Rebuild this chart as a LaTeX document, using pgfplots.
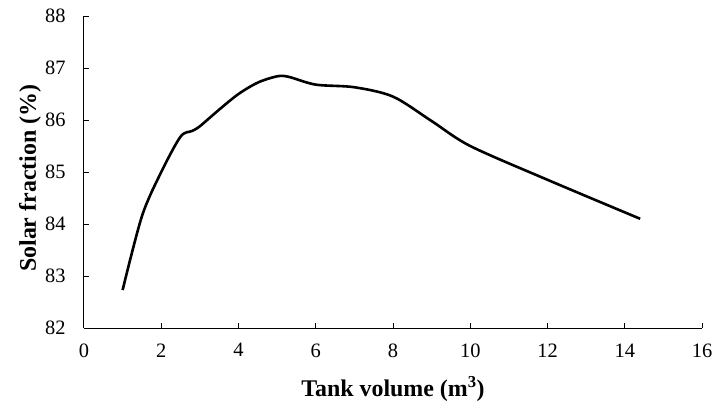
\documentclass[border=0pt]{standalone}
\usepackage{fontspec}
\setmainfont{Liberation Serif}
\usepackage{pgfplots}
\pgfplotsset{compat=1.18}

\begin{document}
\begin{tikzpicture}
\begin{axis}[
  scale only axis,
  width=618bp, height=312bp,
  xmin=0, xmax=16, ymin=82, ymax=88,
  xtick={0,2,...,16}, ytick={82,83,...,88},
  axis x line*=bottom, axis y line*=left,
  axis line style={line width=1bp, -},
  tick style={line width=1bp, black},
  tick align=inside, major tick length=5bp,
  tick label style={font=\fontsize{20.5}{24}\selectfont},
  xticklabel shift=12bp,
  yticklabel shift=15bp,
  /pgf/number format/assume math mode=true,
  xlabel={\bfseries Tank volume (m\textsuperscript{3})},
  ylabel={\bfseries Solar fraction (\%)},
  xlabel style={font=\fontsize{24}{28}\selectfont, at={(axis description cs:0.5,-0.195)}, anchor=center},
  ylabel style={font=\fontsize{24}{28}\selectfont, at={(axis description cs:-0.0874,0.48)}, anchor=center},
]
  \addplot[black, line width=2.6bp, smooth, tension=0.5] coordinates {
    (1,82.73) (1.5,84.15) (2,85.0) (2.5,85.68) (2.8,85.79) (3,85.88)
    (3.5,86.2) (4,86.5) (4.5,86.72) (5,86.84) (5.3,86.83) (6,86.68)
    (7,86.63) (8,86.45) (9,85.98) (10,85.5) (12,84.85) (14.4,84.1)
  };
\end{axis}
\pgfresetboundingbox
\path[use as bounding box] (-84bp,-75bp) rectangle (631bp,328bp);
\end{tikzpicture}
\end{document}
